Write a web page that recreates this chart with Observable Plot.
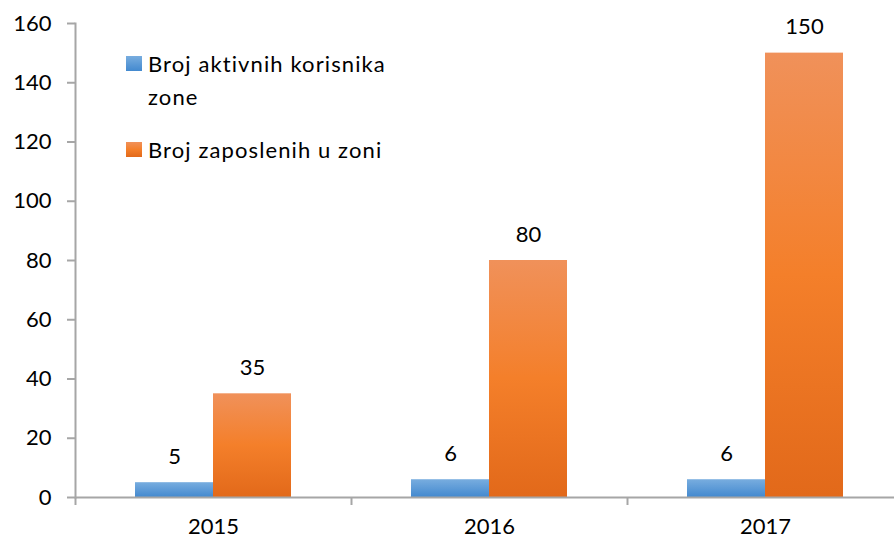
<!DOCTYPE html>
<html>
<head>
<meta charset="utf-8">
<script src="https://cdn.jsdelivr.net/npm/d3@7"></script>
<script src="https://cdn.jsdelivr.net/npm/@observablehq/plot@0.6"></script>
<style>
  html, body { margin: 0; padding: 0; background: #fff; overflow: hidden; }
  #wrap { position: relative; width: 894px; height: 541px; overflow: hidden; }
  #wrap svg { max-width: none !important; }
  .legend { position: absolute; left: 126px; font-family: Lato, "Open Sans", sans-serif; font-size: 22px; letter-spacing: 1.1px; color: #000; }
  .legend .item { position: relative; padding-left: 22px; line-height: 33px; }
  .legend .sw { position: absolute; left: 0; top: 9px; width: 16px; height: 15px; }
</style>
</head>
<body>
<div id="wrap"></div>
<script>
const years = ["2015", "2016", "2017"];
const seriesNames = ["Broj aktivnih korisnika zone", "Broj zaposlenih u zoni"];
const activeUsers = [5, 6, 6];
const employees = [35, 80, 150];
const yTicks = [0, 20, 40, 60, 80, 100, 120, 140, 160];

const data = years.flatMap((yr, i) => [
  {year: yr, series: seriesNames[0], value: activeUsers[i]},
  {year: yr, series: seriesNames[1], value: employees[i]}
]);

const axisColor = "#a6a6a6";
const font = "Lato, 'Open Sans', sans-serif";

const chart = Plot.plot({
  width: 903,
  height: 541,
  marginLeft: 75,
  marginRight: 0,
  marginTop: 23,
  marginBottom: 44,
  style: {fontFamily: font, fontSize: "22px", color: "#000", background: "transparent", maxWidth: "none"},
  fx: {domain: years, padding: 0, label: null},
  x: {domain: seriesNames, paddingInner: 0, paddingOuter: 0.747, axis: null},
  y: {domain: [0, 160], label: null},
  color: {domain: seriesNames, range: ["url(#gBlue)", "url(#gOrange)"]},
  marks: [
    Plot.barY(data, {fx: "year", x: "series", y: "value", fill: "series"}),
    Plot.ruleY([0], {stroke: axisColor, strokeWidth: 2}),
    Plot.frame({anchor: "left", facetAnchor: "left", stroke: axisColor, strokeWidth: 2}),
    Plot.text(data, {fx: "year", x: "series", y: "value", text: d => String(d.value), dy: -26, fontSize: 22, fill: "#000"}),
    Plot.axisY({ticks: yTicks, tickSize: 8, tickPadding: 16, stroke: axisColor, strokeWidth: 2, fontSize: 22, label: null, anchor: "left"}),
    Plot.axisFx({anchor: "bottom", tickSize: 0, tickPadding: 21, fontSize: 22, label: null}),
    Plot.axisFx({anchor: "bottom", tickSize: 8, tickFormat: () => "", dx: -138, stroke: axisColor, strokeWidth: 2, label: null})
  ]
});

d3.select(chart).insert("defs", ":first-child").html(`
  <linearGradient id="gBlue" x1="0" y1="0" x2="0" y2="1">
    <stop offset="0" stop-color="#78addf"/>
    <stop offset="1" stop-color="#4389cf"/>
  </linearGradient>
  <linearGradient id="gOrange" x1="0" y1="0" x2="0" y2="1">
    <stop offset="0" stop-color="#f0915a"/>
    <stop offset="0.5" stop-color="#f47f2a"/>
    <stop offset="1" stop-color="#e2691a"/>
  </linearGradient>
`);

const wrap = document.getElementById("wrap");
wrap.appendChild(chart);

const legend = document.createElement("div");
legend.className = "legend";
legend.style.top = "47px";
const legendBg = ["linear-gradient(#78addf, #4389cf)", "linear-gradient(#f0915a, #f47f2a 50%, #e2691a)"];
const legendLines = [["Broj aktivnih korisnika", "zone"], ["Broj zaposlenih u zoni"]];
legendLines.forEach((lines, i) => {
  const item = document.createElement("div");
  item.className = "item";
  item.style.marginBottom = i === 0 ? "20px" : "0";
  const sw = document.createElement("span");
  sw.className = "sw";
  sw.style.background = legendBg[i];
  item.appendChild(sw);
  item.appendChild(document.createTextNode(lines[0]));
  for (let k = 1; k < lines.length; k++) {
    item.appendChild(document.createElement("br"));
    item.appendChild(document.createTextNode(lines[k]));
  }
  legend.appendChild(item);
});
wrap.appendChild(legend);
</script>
</body>
</html>
